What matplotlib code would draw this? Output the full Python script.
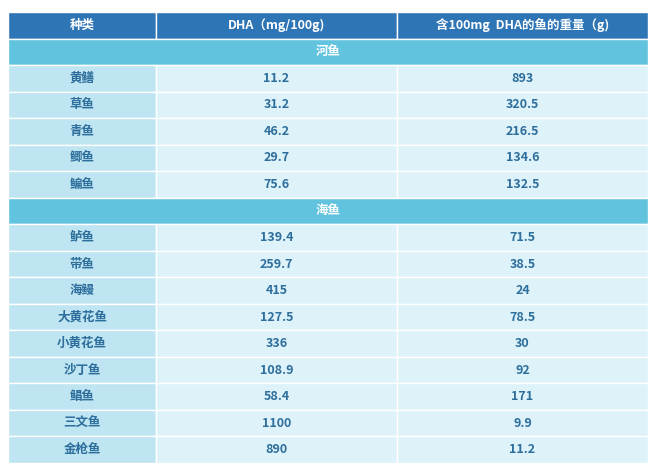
import matplotlib
matplotlib.use("Agg")
import matplotlib.pyplot as plt
from matplotlib.patches import Rectangle

plt.rcParams['font.family'] = ['Noto Sans CJK SC', 'DejaVu Sans']

headers = ["种类", "DHA（mg/100g)", "含100mg  DHA的鱼的重量（g)"]
river_names = ["黄鳝", "草鱼", "青鱼", "鲫鱼", "鳊鱼"]
river_dha = ["11.2", "31.2", "46.2", "29.7", "75.6"]
river_wt = ["893", "320.5", "216.5", "134.6", "132.5"]
sea_names = ["鲈鱼", "带鱼", "海鳗", "大黄花鱼", "小黄花鱼", "沙丁鱼", "鲳鱼", "三文鱼", "金枪鱼"]
sea_dha = ["139.4", "259.7", "415", "127.5", "336", "108.9", "58.4", "1100", "890"]
sea_wt = ["71.5", "38.5", "24", "78.5", "30", "92", "171", "9.9", "11.2"]

W, H = 660, 475
fig = plt.figure(figsize=(W/100, H/100), dpi=100)
ax = fig.add_axes([0, 0, 1, 1])
ax.set_xlim(0, W); ax.set_ylim(H, 0); ax.axis('off')

x0, x1, x2, x3 = 8, 156, 397, 648
top, rh = 12, 26.53
HEAD = '#2E75B6'; SEC = '#62C3DF'; C1 = '#BEE5F1'; C2 = '#DDF2F9'; TXT = '#2D6E9C'

rows = [("header", headers)]
rows.append(("section", "河鱼"))
for r in zip(river_names, river_dha, river_wt):
    rows.append(("data", r))
rows.append(("section", "海鱼"))
for r in zip(sea_names, sea_dha, sea_wt):
    rows.append(("data", r))

xs = [x0, x1, x2, x3]
for i, (kind, content) in enumerate(rows):
    y = top + i * rh
    cy = y + rh / 2
    if kind == "section":
        ax.add_patch(Rectangle((x0, y), x3 - x0, rh, fc=SEC, ec='white', lw=1))
        ax.text((x0 + x3) / 2, cy, content, ha='center', va='center', color='white',
                fontsize=9, fontweight='bold')
        continue
    for j in range(3):
        if kind == "header":
            fc, col = HEAD, 'white'
        else:
            fc, col = (C1 if j == 0 else C2), TXT
        ax.add_patch(Rectangle((xs[j], y), xs[j+1] - xs[j], rh, fc=fc, ec='white', lw=1))
        ax.text((xs[j] + xs[j+1]) / 2, cy, content[j], ha='center', va='center',
                color=col, fontsize=9, fontweight='bold')

fig.savefig("out.png", dpi=100)
